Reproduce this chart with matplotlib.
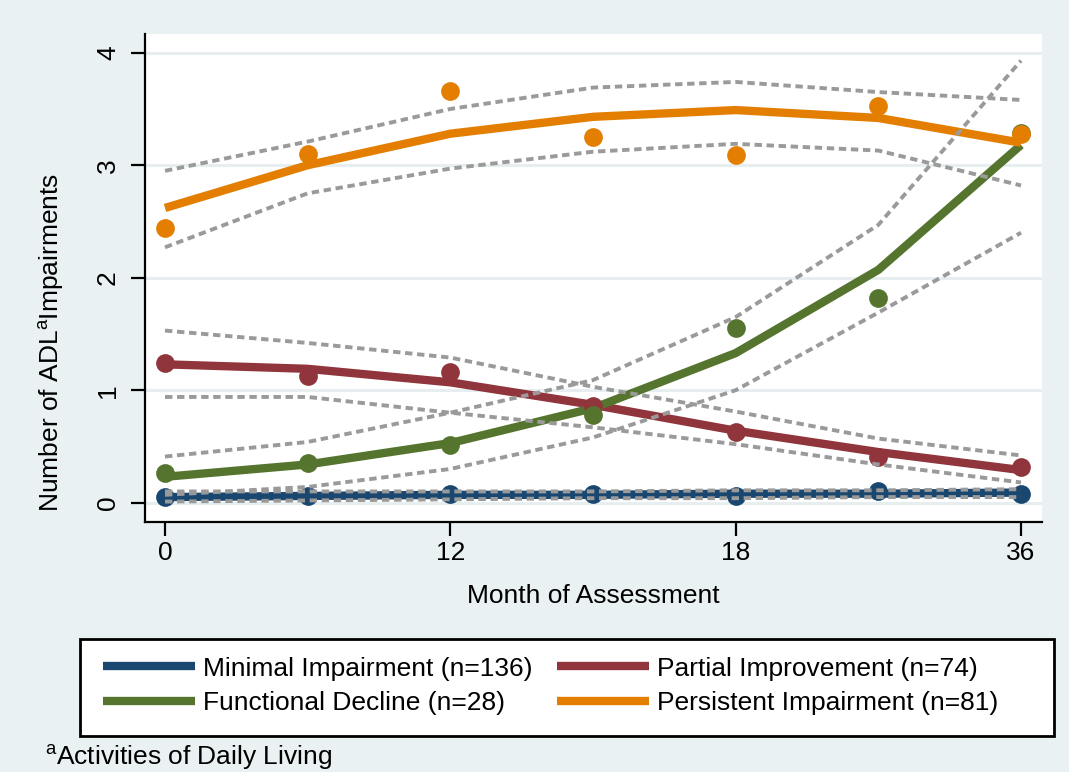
import matplotlib
matplotlib.use("Agg")
import matplotlib.pyplot as plt
from matplotlib.lines import Line2D
from matplotlib.patches import Rectangle

# ---------------- data ----------------
x_idx = [0, 1, 2, 3, 4, 5, 6]
xtick_pos = [0, 2, 4, 6]
xtick_labels = ["0", "12", "18", "36"]
ytick_vals = [0, 1, 2, 3, 4]

minimal_obs = [0.05, 0.06, 0.08, 0.08, 0.06, 0.10, 0.08]
minimal_fit = [0.05, 0.06, 0.07, 0.07, 0.08, 0.08, 0.09]
minimal_hi = [0.10, 0.10, 0.10, 0.10, 0.11, 0.11, 0.12]
minimal_lo = [0.01, 0.02, 0.03, 0.04, 0.04, 0.05, 0.05]

partial_obs = [1.24, 1.13, 1.16, 0.86, 0.63, 0.41, 0.32]
partial_fit = [1.23, 1.19, 1.07, 0.87, 0.64, 0.45, 0.29]
partial_hi = [1.53, 1.42, 1.29, 1.03, 0.81, 0.57, 0.42]
partial_lo = [0.94, 0.94, 0.80, 0.67, 0.52, 0.34, 0.18]

functional_obs = [0.26, 0.35, 0.51, 0.78, 1.55, 1.82, 3.29]
functional_fit = [0.23, 0.34, 0.53, 0.84, 1.33, 2.07, 3.18]
functional_hi = [0.41, 0.54, 0.80, 1.09, 1.65, 2.47, 3.93]
functional_lo = [0.07, 0.14, 0.30, 0.58, 1.00, 1.69, 2.40]

persistent_obs = [2.44, 3.10, 3.66, 3.25, 3.09, 3.53, 3.28]
persistent_fit = [2.62, 3.00, 3.28, 3.43, 3.49, 3.42, 3.20]
persistent_hi = [2.95, 3.21, 3.50, 3.69, 3.74, 3.65, 3.58]
persistent_lo = [2.27, 2.75, 2.97, 3.12, 3.19, 3.13, 2.82]

labels = ["Minimal Impairment (n=136)", "Functional Decline (n=28)",
          "Partial Improvement (n=74)", "Persistent Impairment (n=81)"]

# ---------------- style ----------------
plt.rcParams["font.family"] = ["Liberation Sans", "DejaVu Sans"]
plt.rcParams["mathtext.fontset"] = "custom"
plt.rcParams["mathtext.rm"] = "Liberation Sans"
plt.rcParams["mathtext.it"] = "Liberation Sans"

BG = "#E9F1F3"
NAVY = "#1A476F"
MAROON = "#90353B"
GREEN = "#55752F"
ORANGE = "#E37E00"
CI_GRAY = "#9A9A9A"
FS = 19

W, H = 1069, 772
fig = plt.figure(figsize=(W / 100, H / 100), dpi=100, facecolor=BG)


def fx(px):
    return px / W


def fy(py):
    return 1 - py / H


ax_l, ax_r, ax_t, ax_b = 145, 1042, 34, 522
ax = fig.add_axes([fx(ax_l), fy(ax_b), fx(ax_r - ax_l), (ax_b - ax_t) / H])
ax.set_facecolor("white")

# y: 0 at 502.7 px, 112.5 px per unit
ypx0, yppu = 502.7, 112.5
ax.set_ylim((ypx0 - ax_b) / yppu, (ypx0 - ax_t) / yppu)
# x: index 0 at 165 px, 142.67 px per step
xpx0, xppu = 165, 142.67
ax.set_xlim((ax_l - xpx0) / xppu, (ax_r - xpx0) / xppu)

for v in ytick_vals:
    ax.axhline(v, color="#E6EEF0", lw=2.2, zorder=0)

series = [
    (minimal_obs, minimal_fit, minimal_hi, minimal_lo, NAVY),
    (partial_obs, partial_fit, partial_hi, partial_lo, MAROON),
    (functional_obs, functional_fit, functional_hi, functional_lo, GREEN),
    (persistent_obs, persistent_fit, persistent_hi, persistent_lo, ORANGE),
]
for obs, fit, hi, lo, c in series:
    ax.plot(x_idx, fit, color=c, lw=6.0, solid_capstyle="butt", zorder=3)
    ax.plot(x_idx, obs, "o", color=c, ms=13.5, mec="none", zorder=4)
for obs, fit, hi, lo, c in series:
    for band in (hi, lo):
        ax.plot(x_idx, band, color=CI_GRAY, lw=2.8, ls=(0, (1.9, 1.2)), zorder=5)

for s in ("top", "right"):
    ax.spines[s].set_visible(False)
for s in ("left", "bottom"):
    ax.spines[s].set_linewidth(1.6)
    ax.spines[s].set_color("black")

ax.set_yticks(ytick_vals)
ax.set_yticklabels([str(v) for v in ytick_vals], rotation=90, va="center")
ax.set_xticks(xtick_pos)
ax.set_xticklabels(xtick_labels)
ax.tick_params(axis="y", length=10, width=1.6, pad=8, labelsize=FS)
ax.tick_params(axis="x", length=10, width=1.6, pad=4, labelsize=FS)

fig.text(fx(52), fy(342), r"Number of ADL$^{\mathrm{a}}$Impairments", rotation=90,
         ha="center", va="center", fontsize=FS)
fig.text(fx(593), fy(596), "Month of Assessment", ha="center", va="center", fontsize=FS)

# legend box
fig.patches.append(Rectangle((fx(80), fy(736)), fx(1054 - 80), (736 - 639) / H,
                             transform=fig.transFigure, facecolor="white",
                             edgecolor="black", lw=2.0, zorder=1))
colors = [NAVY, GREEN, MAROON, ORANGE]
handles = [Line2D([], [], color=c, lw=6.0, solid_capstyle="butt") for c in colors]
leg = fig.legend(handles, labels, ncol=2, loc="center left",
                 bbox_to_anchor=(fx(103), fy(686)), frameon=False, fontsize=FS,
                 handlelength=3.5, handletextpad=0.3, columnspacing=0.9,
                 labelspacing=0.4, borderpad=0, borderaxespad=0)
leg.set_zorder(2)

fig.text(fx(45), fy(757), r"$^{\mathrm{a}}$Activities of Daily Living",
         ha="left", va="center", fontsize=FS)

fig.savefig("out.png", dpi=100, facecolor=BG)
